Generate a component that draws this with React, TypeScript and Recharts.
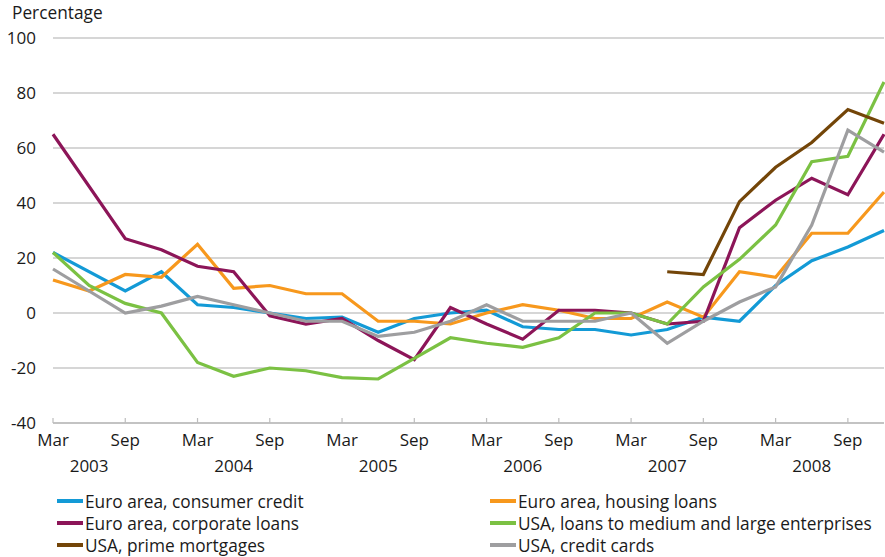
import { LineChart, Line, XAxis, YAxis, CartesianGrid } from "recharts";

const quarters = [
  "Mar 2003", "Jun 2003", "Sep 2003", "Dec 2003",
  "Mar 2004", "Jun 2004", "Sep 2004", "Dec 2004",
  "Mar 2005", "Jun 2005", "Sep 2005", "Dec 2005",
  "Mar 2006", "Jun 2006", "Sep 2006", "Dec 2006",
  "Mar 2007", "Jun 2007", "Sep 2007", "Dec 2007",
  "Mar 2008", "Jun 2008", "Sep 2008", "Dec 2008",
];

const euroConsumer = [22, null, 8, 15, 3, 2, 0, -2, -1.5, -7, -2, 0, 1, -5, -6, -6, -8, -6, -1.5, -3, 10, 19, 24, 30];
const euroHousing = [12, 8, 14, 13, 25, 9, 10, 7, 7, -3, -3, -4, 0, 3, 1, -2, -2, 4, -1.5, 15, 13, 29, 29, 44];
const euroCorporate = [65, null, 27, 23, 17, 15, -1, -4, -2, -10, -17, 2, -4, -9.5, 1, 1, 0, -4, -3, 31, 41, 49, 43, 65];
const usaEnterprises = [22, 10, 3.5, 0, -18, -23, -20, -21, -23.5, -24, -16.5, -9, -11, -12.5, -9, 0, 0, -4, 9.5, 19.5, 32, 55, 57, 84];
const usaPrime = [null, null, null, null, null, null, null, null, null, null, null, null, null, null, null, null, null, 15, 14, 40.5, 53, 62, 74, 69];
const usaCards = [16, null, 0, 2.5, 6, 3, 0, -3, -3, -8.5, -7, -3, 3, -3, -3, -3, 0, -11, -3, 4, 9.5, 32, 66.5, 58.5];

const yTicks = [-40, -20, 0, 20, 40, 60, 80, 100];

const series = [
  { key: "consumer", name: "Euro area, consumer credit", color: "#139ad6", values: euroConsumer },
  { key: "housing", name: "Euro area, housing loans", color: "#f7981d", values: euroHousing },
  { key: "corporate", name: "Euro area, corporate loans", color: "#8c1558", values: euroCorporate },
  { key: "enterprises", name: "USA, loans to medium and large enterprises", color: "#7bc143", values: usaEnterprises },
  { key: "prime", name: "USA, prime mortgages", color: "#734508", values: usaPrime },
  { key: "cards", name: "USA, credit cards", color: "#9e9ea0", values: usaCards },
];

const data = quarters.map((q, i) => {
  const row: Record<string, string | number | null> = { q };
  series.forEach((s) => { row[s.key] = s.values[i]; });
  return row;
});

const FONT = "'Open Sans', sans-serif";
const TEXT = "#1a1a1a";
const FS = 17;

function QuarterTick(props: any) {
  const { x, y, payload } = props;
  const [month, year] = String(payload.value).split(" ");
  const major = month === "Mar" || month === "Sep";
  return (
    <g>
      {major && <line x1={x} x2={x} y1={y} y2={y - 5} stroke="#bdbdbd" strokeWidth={1.2} />}
      {major && (
        <text x={x} y={y + 23} textAnchor="middle" fontSize={FS} fill={TEXT} fontFamily={FONT}>{month}</text>
      )}
      {month === "Jun" && (
        <text x={x} y={y + 49} textAnchor="middle" fontSize={FS} fill={TEXT} fontFamily={FONT}>{year}</text>
      )}
    </g>
  );
}

export default function App() {
  return (
    <div style={{ position: "absolute", left: 0, top: 0, width: 885, height: 557, background: "#fff", fontFamily: FONT }}>
      <div style={{ position: "absolute", left: 12, top: 2, fontSize: 17.3, color: TEXT, lineHeight: "22px" }}>Percentage</div>
      <LineChart width={885} height={557} data={data} margin={{ top: 38, right: 1, bottom: 74, left: 0 }}>
        <CartesianGrid vertical={false} stroke="#c8c8c8" strokeWidth={1.5} />
        <XAxis
          dataKey="q"
          interval={0}
          height={60}
          tickSize={0}
          tickMargin={0}
          tickLine={false}
          axisLine={{ stroke: "#bdbdbd", strokeWidth: 1.5 }}
          padding={{ left: 0, right: 0 }}
          tick={<QuarterTick />}
        />
        <YAxis
          domain={[-40, 100]}
          ticks={yTicks}
          width={53}
          axisLine={false}
          tickLine={false}
          tickSize={0}
          tickMargin={17}
          tick={{ fontSize: FS, fill: TEXT, fontFamily: FONT }}
        />
        {series.map((s) => (
          <Line
            key={s.key}
            dataKey={s.key}
            name={s.name}
            stroke={s.color}
            strokeWidth={3.2}
            dot={false}
            type="linear"
            connectNulls
            isAnimationActive={false}
          />
        ))}
      </LineChart>
      {series.map((s, i) => (
        <div
          key={s.key}
          style={{
            position: "absolute",
            left: i % 2 === 0 ? 57 : 490,
            top: 490 + Math.floor(i / 2) * 22,
            height: 22,
            display: "flex",
            alignItems: "center",
            fontSize: 17.3,
            color: TEXT,
            whiteSpace: "nowrap",
          }}
        >
          <span style={{ display: "inline-block", width: 26, height: 4, background: s.color, marginRight: 2 }} />
          <span>{s.name}</span>
        </div>
      ))}
    </div>
  );
}
